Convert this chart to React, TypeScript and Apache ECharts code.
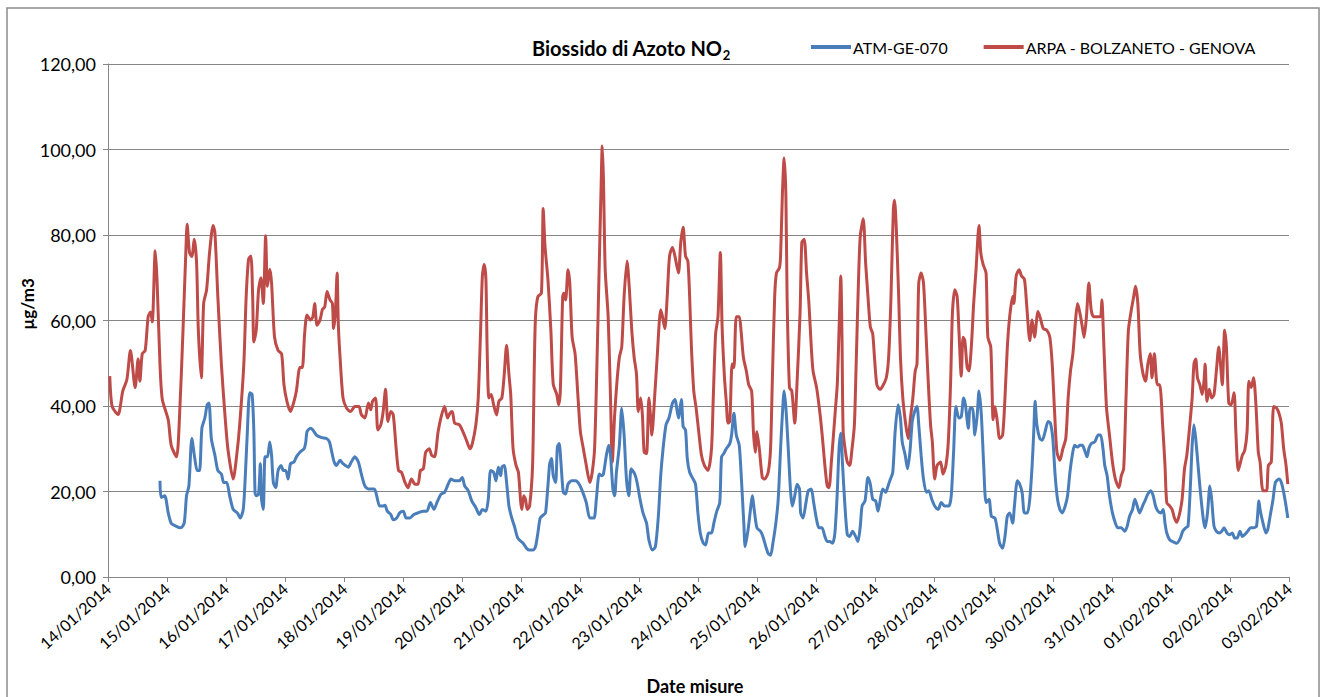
import React, { useEffect, useRef } from "react";
import * as echarts from "echarts";

// Tick labels (one per day from 14/01/2014)
const dateLabels = [
  "14/01/2014", "15/01/2014", "16/01/2014", "17/01/2014", "18/01/2014", "19/01/2014",
  "20/01/2014", "21/01/2014", "22/01/2014", "23/01/2014", "24/01/2014", "25/01/2014",
  "26/01/2014", "27/01/2014", "28/01/2014", "29/01/2014", "30/01/2014", "31/01/2014",
  "01/02/2014", "02/02/2014", "03/02/2014",
];

const seriesNames = ["ATM-GE-070", "ARPA - BOLZANETO - GENOVA"];

// [days since 14/01/2014 00:00, µg/m3]
const atmData: [number, number][] = [
  [0.88,22.5],[0.90,18.6],[0.96,19],[1.02,15],[1.07,12.6],[1.15,11.9],[1.23,11.5],[1.29,12.6],[1.33,19],[1.37,21.3],
  [1.42,32.4],[1.47,27.7],[1.51,24.9],[1.55,24.9],[1.59,34.8],[1.64,37.2],[1.68,40.3],[1.71,40.7],[1.75,32.4],[1.81,28.5],
  [1.86,24.9],[1.92,24.1],[1.96,22.1],[2.01,22.1],[2.06,19],[2.12,15.8],[2.19,15],[2.24,13.8],[2.29,15.8],[2.32,22.1],
  [2.36,34],[2.40,43.1],[2.44,42.7],[2.47,34],[2.49,19.8],[2.51,19],[2.55,19.4],[2.58,26.5],[2.60,18.2],[2.63,15.8],
  [2.66,28.1],[2.70,28.1],[2.74,31.6],[2.77,28.5],[2.80,22.1],[2.84,20.9],[2.88,24.9],[2.93,26.1],[2.97,24.9],[3.01,24.9],
  [3.05,22.9],[3.09,26.5],[3.15,26.9],[3.19,28.1],[3.25,29.2],[3.32,30],[3.35,31.6],[3.37,34],[3.43,34.8],[3.47,34.4],
  [3.53,33.2],[3.62,32.6],[3.70,32.4],[3.75,31.6],[3.79,29.2],[3.83,26.9],[3.87,26.1],[3.93,27.3],[3.98,26.5],[4.07,25.7],
  [4.12,26.9],[4.18,28.1],[4.24,26.9],[4.29,24.1],[4.35,21.3],[4.41,20.6],[4.51,20.6],[4.55,19],[4.60,16.6],[4.65,16.6],
  [4.69,16.8],[4.73,15.4],[4.79,14.6],[4.83,13.4],[4.89,13.8],[4.94,15],[5.00,15.4],[5.05,13.8],[5.11,13.8],[5.18,14.6],
  [5.25,15],[5.34,15.4],[5.40,15.4],[5.46,17.4],[5.52,15.8],[5.57,17.4],[5.64,19.4],[5.70,19.8],[5.76,21.7],[5.81,22.9],
  [5.87,22.5],[5.95,22.5],[6.00,23.3],[6.04,21.3],[6.10,20.2],[6.16,17.8],[6.23,16.2],[6.29,14.6],[6.34,15.8],[6.40,15.4],
  [6.44,18.2],[6.48,24.9],[6.53,24.5],[6.57,22.5],[6.61,25.7],[6.65,23.7],[6.67,25.7],[6.71,26.1],[6.75,22.1],[6.79,16.6],
  [6.83,14.2],[6.89,11.5],[6.94,9.1],[7.03,7.9],[7.09,6.7],[7.14,6.3],[7.20,6.3],[7.24,7.1],[7.28,10.3],[7.32,13.8],
  [7.38,14.6],[7.41,15],[7.45,21.3],[7.48,26.5],[7.51,27.7],[7.54,23.7],[7.58,22.1],[7.61,30.4],[7.64,31.2],[7.67,26.9],
  [7.71,19.8],[7.75,19.4],[7.79,21.7],[7.85,22.5],[7.92,22.5],[7.98,21.7],[8.03,20.2],[8.10,17.4],[8.16,13.8],[8.23,13.8],
  [8.27,18.2],[8.32,24.1],[8.36,23.7],[8.39,24.1],[8.44,28.5],[8.48,30.8],[8.51,28.5],[8.55,20.6],[8.58,19],[8.61,24.5],
  [8.66,30.8],[8.70,39.5],[8.74,33.2],[8.78,22.9],[8.82,19],[8.86,25.3],[8.92,24.1],[8.96,22.1],[9.01,18.2],[9.06,15],
  [9.12,12.6],[9.16,8.7],[9.22,6.3],[9.27,7.1],[9.32,14.2],[9.36,23.7],[9.40,30],[9.45,35.6],[9.50,37.2],[9.56,40.7],
  [9.60,41.5],[9.66,37.2],[9.71,41.5],[9.74,35.2],[9.78,34.4],[9.81,27.7],[9.85,24.5],[9.91,22.9],[9.95,21.7],[9.99,15],
  [10.03,10.3],[10.08,7.9],[10.12,7.5],[10.17,10.3],[10.22,10.3],[10.26,12.6],[10.31,15.4],[10.36,17.4],[10.39,28.1],[10.43,28.9],
  [10.47,30],[10.53,31.2],[10.56,33.2],[10.60,38.3],[10.64,33.2],[10.69,30.8],[10.73,22.1],[10.77,11.9],[10.79,7.1],[10.84,11.1],
  [10.88,15.8],[10.91,19],[10.95,15],[10.99,11.5],[11.05,10.7],[11.09,9.5],[11.14,7.1],[11.18,5.5],[11.22,5.1],[11.26,7.9],
  [11.31,12.6],[11.35,18.2],[11.39,30],[11.42,37.9],[11.45,43.5],[11.48,39.5],[11.52,30],[11.56,19.8],[11.59,16.6],[11.63,19],
  [11.67,21.7],[11.71,20.6],[11.73,15],[11.77,13.8],[11.82,17.4],[11.86,20.2],[11.91,20.6],[11.95,17.4],[12.00,13.4],[12.04,11.5],
  [12.09,11.5],[12.14,9.5],[12.18,8.3],[12.22,8.3],[12.27,7.9],[12.31,10.3],[12.35,19.8],[12.38,30],[12.41,33.6],[12.44,26.1],
  [12.48,16.6],[12.52,9.9],[12.56,9.5],[12.61,10.7],[12.66,9.5],[12.70,8.3],[12.74,11.9],[12.77,16.6],[12.82,17.8],[12.87,23.3],
  [12.91,21.7],[12.95,18.2],[13.00,17.8],[13.04,15.4],[13.08,18.2],[13.12,20.6],[13.17,19.8],[13.21,21.3],[13.25,22.9],[13.29,24.5],
  [13.33,34],[13.38,40.3],[13.42,37.2],[13.45,31.6],[13.50,28.5],[13.54,25.3],[13.58,29.2],[13.62,36.4],[13.66,38.7],[13.70,39.9],
  [13.73,35.6],[13.77,28.5],[13.81,22.9],[13.86,19.8],[13.90,20.2],[13.95,18.2],[14.00,16.6],[14.06,15.8],[14.11,17.4],[14.17,16.6],
  [14.24,16.6],[14.28,19],[14.32,29.2],[14.36,39.9],[14.41,37.2],[14.45,37.5],[14.49,41.9],[14.52,40.3],[14.57,34.8],[14.60,39.5],
  [14.64,39.5],[14.68,33.2],[14.72,37.9],[14.75,43.5],[14.79,37.9],[14.83,26.1],[14.87,17.4],[14.92,18.2],[14.96,14.2],[15.02,13.8],
  [15.06,11.1],[15.10,7.9],[15.15,6.7],[15.19,9.5],[15.23,14.2],[15.27,15],[15.32,12.6],[15.35,16.6],[15.40,22.5],[15.44,21.7],
  [15.48,19.8],[15.52,15],[15.57,15],[15.61,18.2],[15.65,26.1],[15.68,34.8],[15.70,41.1],[15.73,35.6],[15.78,32.4],[15.82,32],
  [15.87,34],[15.92,36.4],[15.96,36],[16.00,32.4],[16.04,23.7],[16.08,18.2],[16.12,15.8],[16.16,15],[16.21,16.6],[16.25,19],
  [16.29,24.5],[16.33,28.5],[16.37,30.8],[16.42,30.4],[16.46,30.8],[16.50,30.8],[16.54,29.6],[16.58,28.1],[16.61,30],[16.65,31.2],
  [16.71,31.6],[16.77,33.2],[16.81,33.2],[16.85,30],[16.88,26.1],[16.92,23.7],[16.96,19],[17.01,15],[17.06,12.6],[17.10,11.5],
  [17.16,11.5],[17.22,10.7],[17.26,11.9],[17.30,14.2],[17.35,15.8],[17.39,18.2],[17.43,16.6],[17.47,15],[17.52,16.6],[17.56,17.8],
  [17.61,19.4],[17.66,20.2],[17.70,19],[17.74,16.6],[17.78,15.4],[17.83,15],[17.87,15.8],[17.90,12.6],[17.93,10.3],[17.98,8.7],
  [18.03,8.3],[18.10,7.9],[18.16,9.1],[18.20,10.7],[18.25,11.5],[18.29,11.9],[18.33,21.3],[18.36,30.8],[18.39,35.6],[18.42,32.4],
  [18.46,26.1],[18.50,19.8],[18.55,13.4],[18.58,11.5],[18.62,15],[18.66,21.3],[18.69,18.2],[18.73,11.9],[18.77,10.7],[18.82,10.3],
  [18.86,10.7],[18.90,11.5],[18.95,10.3],[19.00,9.9],[19.04,10.3],[19.08,9.1],[19.12,9.1],[19.17,10.7],[19.21,9.5],[19.25,9.9],
  [19.30,10.7],[19.35,11.5],[19.40,11.5],[19.45,11.9],[19.49,17.8],[19.51,15.8],[19.56,12.6],[19.61,10.3],[19.64,11.1],[19.68,14.2],
  [19.73,18.2],[19.77,22.1],[19.83,22.9],[19.87,22.1],[19.91,19.8],[19.95,16.6],[19.98,13.8],
];

const arpaData: [number, number][] = [
  [0.03,47],[0.07,39.9],[0.17,38],[0.25,43.5],[0.32,46.2],[0.38,53],[0.46,44.3],[0.51,51],[0.54,45.8],[0.58,52.2],
  [0.63,53],[0.68,60.9],[0.72,62],[0.75,59.7],[0.80,76.3],[0.83,69.6],[0.88,49.8],[0.92,41.5],[1.02,36.8],[1.07,30.8],
  [1.16,28.1],[1.21,37.2],[1.27,57.7],[1.32,76.7],[1.34,82.5],[1.38,75.9],[1.42,75],[1.46,79],[1.50,73.5],[1.53,57.7],
  [1.58,46.6],[1.62,64],[1.67,67.2],[1.72,75.9],[1.78,82.2],[1.81,80.6],[1.86,65.6],[1.92,49.8],[1.98,38],[2.03,30],
  [2.12,22.9],[2.18,28.5],[2.23,35.6],[2.30,49.8],[2.34,65.6],[2.38,74.3],[2.42,75.1],[2.45,65.6],[2.47,55],[2.51,57.7],
  [2.55,67.2],[2.59,70],[2.63,64],[2.67,79.8],[2.70,68],[2.74,72],[2.77,68.8],[2.82,56.1],[2.88,53],[2.94,52.2],
  [2.98,45],[3.03,41.1],[3.09,38.7],[3.15,41.1],[3.19,43.5],[3.25,49],[3.29,49],[3.33,56.9],[3.37,61.3],[3.43,60.1],
  [3.47,60.9],[3.50,64],[3.54,58.9],[3.59,60.1],[3.63,62.5],[3.67,63.2],[3.71,66.8],[3.76,64.8],[3.80,64],[3.82,58.1],
  [3.85,61.7],[3.88,71.1],[3.90,59.3],[3.93,51.4],[3.98,41.9],[4.04,39.5],[4.11,38.7],[4.18,39.9],[4.25,39.9],[4.29,38],
  [4.35,37.2],[4.41,40.7],[4.45,39.1],[4.48,41.1],[4.53,41.9],[4.57,34.4],[4.62,35.6],[4.66,38.7],[4.70,43.9],[4.74,36.4],
  [4.79,38.7],[4.83,38],[4.88,30],[4.92,24.9],[4.97,24.5],[5.03,22.1],[5.08,20.9],[5.14,22.9],[5.20,21.7],[5.25,21.7],
  [5.29,24.9],[5.34,25.3],[5.38,29.2],[5.44,30],[5.48,28.5],[5.53,28.1],[5.59,34],[5.65,37.9],[5.70,39.9],[5.75,37.2],
  [5.79,38.3],[5.83,38.7],[5.87,36],[5.95,35.6],[6.01,34],[6.07,32],[6.13,30],[6.17,31.2],[6.23,35.6],[6.27,41.9],
  [6.31,57.7],[6.34,70.4],[6.37,73.1],[6.40,69.6],[6.42,53.8],[6.45,41.9],[6.49,42.7],[6.53,40.3],[6.58,37.9],[6.62,41.1],
  [6.67,41.9],[6.71,47.4],[6.75,54.2],[6.79,47.4],[6.82,42.7],[6.86,30],[6.91,26.1],[6.95,24.5],[6.99,17.4],[7.01,15.8],
  [7.04,19],[7.07,18.2],[7.10,15.8],[7.14,16.6],[7.19,26.1],[7.22,49.8],[7.24,60.9],[7.28,65.6],[7.34,66.4],[7.37,86.2],
  [7.40,77.5],[7.45,69.6],[7.50,57.7],[7.54,45.1],[7.60,42.7],[7.63,40.3],[7.66,43.5],[7.70,65.6],[7.72,66.4],[7.75,64.8],
  [7.79,71.9],[7.82,68.8],[7.86,56.1],[7.91,52.2],[7.96,41.9],[8.00,34],[8.05,30],[8.10,26.1],[8.16,22.1],[8.20,24.5],
  [8.24,30],[8.28,49.8],[8.32,73.5],[8.35,90.9],[8.37,100.8],[8.39,93.3],[8.42,71.9],[8.47,60.9],[8.51,41.9],[8.54,26.9],
  [8.58,37.9],[8.62,45.8],[8.66,51.4],[8.70,53.8],[8.74,65.6],[8.79,73.9],[8.83,67.2],[8.87,57.7],[8.91,51.4],[8.95,47.4],
  [8.98,38.7],[9.02,41.9],[9.05,37.9],[9.08,29.2],[9.12,28.9],[9.16,41.9],[9.19,37.2],[9.21,33.2],[9.26,42.7],[9.30,51.4],
  [9.36,62.5],[9.39,60.9],[9.43,58.1],[9.47,65.6],[9.51,75.1],[9.56,77.1],[9.60,75.1],[9.66,71.1],[9.70,78.3],[9.74,81.8],
  [9.78,75.1],[9.82,73.9],[9.85,65.6],[9.88,53.8],[9.92,43.5],[9.96,39.5],[10.01,33.2],[10.05,28.5],[10.10,26.1],[10.16,24.9],
  [10.22,30],[10.25,41.9],[10.29,56.9],[10.33,60.9],[10.37,75.9],[10.40,58.5],[10.44,46.6],[10.47,41.1],[10.50,36],[10.53,36.4],
  [10.57,49.8],[10.60,49],[10.64,60.9],[10.69,60.9],[10.72,57.7],[10.76,51.4],[10.81,48.2],[10.85,45],[10.90,43.5],[10.93,34],
  [10.96,29.2],[10.99,34],[11.03,30],[11.08,23.3],[11.12,22.9],[11.18,24.5],[11.22,30],[11.25,45.8],[11.29,65.6],[11.32,71.1],
  [11.37,72.3],[11.39,75.1],[11.42,89.3],[11.45,98],[11.48,89.3],[11.50,65.6],[11.54,44.3],[11.58,43.5],[11.63,36],[11.67,45.8],
  [11.72,61.7],[11.75,78.3],[11.79,79],[11.83,71.1],[11.87,64],[11.91,53.8],[11.94,48.2],[12.00,44.3],[12.06,37.9],[12.10,32.4],
  [12.14,26.1],[12.18,21.3],[12.21,20.9],[12.25,26.9],[12.29,34],[12.32,39.5],[12.35,45],[12.38,57.7],[12.41,70.4],[12.43,56.1],
  [12.45,34],[12.49,29.2],[12.52,26.9],[12.56,26.1],[12.60,30],[12.64,35.6],[12.67,49.8],[12.71,69.6],[12.74,79.8],[12.79,83.8],
  [12.83,73.5],[12.87,65.6],[12.91,58.5],[12.95,56.9],[12.98,51.4],[13.02,45],[13.07,43.9],[13.12,44.7],[13.18,46.6],[13.22,51.4],
  [13.26,65.6],[13.30,86.2],[13.32,88.1],[13.35,81.4],[13.39,65.6],[13.42,51.4],[13.46,41.9],[13.51,35.6],[13.55,32.4],[13.59,37.2],
  [13.63,41.9],[13.67,48.2],[13.70,49.8],[13.73,68.8],[13.77,71.1],[13.81,68.8],[13.85,57.7],[13.89,45.8],[13.93,35.6],[13.96,31.6],
  [14.00,22.9],[14.04,26.1],[14.10,26.9],[14.14,24.1],[14.19,26.1],[14.23,31.6],[14.27,45.8],[14.30,61.7],[14.34,67.2],[14.38,65.6],
  [14.41,57.7],[14.45,47],[14.48,56.1],[14.51,55.3],[14.55,49],[14.58,48.2],[14.62,53.8],[14.66,64],[14.70,71.9],[14.75,82.2],
  [14.78,75.9],[14.82,73.1],[14.87,71.1],[14.90,56.1],[14.95,53.8],[14.99,36.8],[15.02,39.9],[15.06,36.4],[15.10,32.4],[15.15,33.2],
  [15.19,41.9],[15.23,53.8],[15.27,60.9],[15.32,65.6],[15.34,64],[15.38,70.4],[15.43,71.9],[15.47,70.4],[15.52,69.6],[15.56,63.2],
  [15.61,55.3],[15.65,60.1],[15.69,56.1],[15.75,62.1],[15.79,60.5],[15.84,58.1],[15.90,57.7],[15.95,56.1],[15.99,49.8],[16.03,38.7],
  [16.07,29.2],[16.12,27.3],[16.17,30],[16.22,32.4],[16.26,41.9],[16.30,48.2],[16.34,52.2],[16.39,60.9],[16.42,64],[16.46,61.7],
  [16.50,58.5],[16.53,56.1],[16.57,60.9],[16.61,68.8],[16.65,62.5],[16.69,60.9],[16.77,60.9],[16.81,60.9],[16.83,64.8],[16.87,52.2],
  [16.91,39.5],[16.96,33.2],[17.01,26.9],[17.06,22.9],[17.12,20.9],[17.16,23.7],[17.20,25.3],[17.24,41.9],[17.28,57.7],[17.33,62.5],
  [17.37,65.6],[17.40,68],[17.44,64],[17.48,52.2],[17.53,47.4],[17.57,45.8],[17.61,49.8],[17.65,52.2],[17.68,46.6],[17.72,52.2],
  [17.77,45],[17.81,45],[17.86,35.6],[17.90,26.1],[17.93,17.4],[17.98,16.6],[18.02,15.8],[18.06,13.8],[18.10,12.8],[18.15,15],
  [18.19,18.2],[18.23,25.3],[18.27,28.5],[18.32,35.6],[18.36,41.9],[18.39,49.8],[18.42,51],[18.45,46.6],[18.49,45],[18.53,42.7],
  [18.56,45.8],[18.58,49.8],[18.61,41.1],[18.65,43.9],[18.69,41.9],[18.73,42.7],[18.77,48.2],[18.81,53.8],[18.84,49.8],[18.87,45],
  [18.91,57.7],[18.94,53.8],[18.98,40.7],[19.02,40.3],[19.07,43.1],[19.10,34],[19.14,24.9],[19.18,26.9],[19.21,28.5],[19.25,29.6],
  [19.29,34],[19.32,45.8],[19.36,44.3],[19.40,46.6],[19.44,40.3],[19.48,29.2],[19.51,26.9],[19.56,20.2],[19.62,20.2],[19.65,26.1],
  [19.70,26.9],[19.74,39.9],[19.79,39.5],[19.83,38.3],[19.87,36],[19.91,30],[19.95,26.1],[19.98,21.7],
];

const FONT = "Lato, 'Open Sans', sans-serif";
const BLUE = "#4A7EBB";
const RED = "#BE4B48";
const GRID_GRAY = "#868686";

export default function App() {
  const ref = useRef<HTMLDivElement>(null);

  useEffect(() => {
    document.body.style.margin = "0";
    if (!ref.current) return;
    const chart = echarts.init(ref.current, undefined, { renderer: "svg" });
    chart.setOption({
      animation: false,
      backgroundColor: "#ffffff",
      title: {
        text: "{a|Biossido di Azoto NO}{b|2}",
        left: 527,
        top: 30,
        textStyle: {
          rich: {
            a: { fontFamily: FONT, fontWeight: "bold", fontSize: 20, color: "#000", lineHeight: 26 },
            b: { fontFamily: FONT, fontWeight: "bold", fontSize: 13, color: "#000", lineHeight: 14, verticalAlign: "bottom" },
          },
        },
      },
      legend: {
        left: 806,
        top: 34,
        itemGap: 36,
        itemWidth: 40,
        itemHeight: 4,
        icon: "rect",
        data: seriesNames,
        textStyle: { fontFamily: FONT, fontSize: 16, color: "#000", padding: [0, 0, 0, -3] },
      },
      grid: { left: 108, right: 31, top: 64, bottom: 120, containLabel: false },
      xAxis: {
        type: "value",
        min: 0,
        max: dateLabels.length - 1,
        interval: 1,
        axisLine: { show: true, lineStyle: { color: GRID_GRAY, width: 1 } },
        axisTick: { show: true, length: 5, lineStyle: { color: GRID_GRAY } },
        splitLine: { show: false },
        axisLabel: {
          rotate: 42,
          margin: 9,
          fontFamily: FONT,
          fontSize: 16,
          color: "#000",
          showMinLabel: true,
          showMaxLabel: true,
          formatter: (v: number) => dateLabels[Math.round(v)] ?? "",
        },
      },
      yAxis: {
        type: "value",
        min: 0,
        max: 120,
        interval: 20,
        axisLine: { show: true, lineStyle: { color: GRID_GRAY, width: 1 } },
        axisTick: { show: true, length: 5, lineStyle: { color: GRID_GRAY } },
        splitLine: { show: true, lineStyle: { color: GRID_GRAY, width: 1 } },
        axisLabel: {
          margin: 12,
          fontFamily: FONT,
          fontSize: 18,
          color: "#000",
          formatter: (v: number) => v.toFixed(2).replace(".", ","),
        },
      },
      graphic: [
        {
          type: "rect",
          shape: { x: 7, y: 8, width: 1312, height: 720 },
          style: { fill: "none", stroke: "#8c8c8c", lineWidth: 1.5 },
          silent: true,
        },
        {
          type: "text",
          x: 27,
          y: 304,
          rotation: Math.PI / 2,
          style: {
            text: "µg/m3",
            fontFamily: FONT,
            fontWeight: "bold",
            fontSize: 17,
            fill: "#000",
            align: "center",
            verticalAlign: "middle",
          },
        },
        {
          type: "text",
          x: 695,
          y: 686,
          style: {
            text: "Date misure",
            fontFamily: FONT,
            fontWeight: "bold",
            fontSize: 18,
            fill: "#000",
            align: "center",
            verticalAlign: "middle",
          },
        },
      ],
      series: [
        {
          name: seriesNames[0],
          type: "line",
          data: atmData,
          showSymbol: false,
          smooth: 0.25,
          lineStyle: { color: BLUE, width: 3 },
          itemStyle: { color: BLUE },
          z: 3,
        },
        {
          name: seriesNames[1],
          type: "line",
          data: arpaData,
          showSymbol: false,
          smooth: 0.25,
          lineStyle: { color: RED, width: 3 },
          itemStyle: { color: RED },
          z: 2,
        },
      ],
    });
    return () => chart.dispose();
  }, []);

  return <div ref={ref} style={{ width: 1320, height: 697 }} />;
}
